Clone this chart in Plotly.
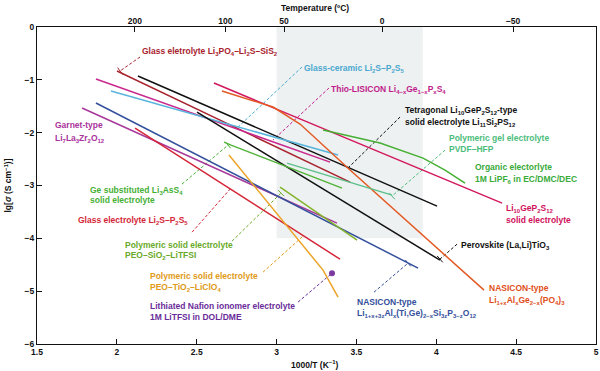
import math
import plotly.graph_objects as go

FONT = "Liberation Sans, Arial, sans-serif"

# ---------------- data (1000/T in K^-1, lg sigma in S/cm) ----------------
series_names = [
    "Li3PO4-Li2S-SiS2", "Tetragonal Li11Si2PS12", "Thio-LISICON", "Glass-ceramic Li2S-P2S5",
    "Garnet LLZO", "NASICON Ti/Ge", "Glass Li2S-P2S5", "Li10GeP2S12", "Perovskite",
    "NASICON Ge", "Organic LiPF6", "Ge-Li3AsS4", "PVDF-HFP", "PEO-SiO2-LiTFSI", "PEO-TiO2-LiClO4",
]
series_x = [
    [2.001, 3.46],
    [2.132, 4.005],
    [1.869, 3.335],
    [1.963, 3.385],
    [1.782, 3.378],
    [1.869, 3.886],
    [2.114, 3.397],
    [2.608, 4.412],
    [2.502, 4.023],
    [2.658, 2.978, 3.147, 3.46, 4.299],
    [3.291, 3.648, 3.917, 4.055, 4.18],
    [2.671, 2.715, 3.41],
    [3.065, 3.723],
    [3.022, 3.504],
    [2.702, 3.291, 3.385],
]
series_y = [
    [-0.833, -2.936],
    [-0.928, -3.39],
    [-0.985, -2.557],
    [-1.212, -2.424],
    [-1.534, -3.712],
    [-1.439, -4.564],
    [-1.913, -4.394],
    [-1.061, -3.333],
    [-1.61, -4.413],
    [-1.212, -1.515, -1.837, -2.708, -4.981],
    [-1.951, -2.197, -2.481, -2.708, -2.955],
    [-2.178, -2.235, -3.049],
    [-2.576, -3.182],
    [-3.03, -4.034],
    [-2.424, -4.602, -5.114],
]
series_colors = [
    "#a8232e", "#111111", "#c8288e", "#58b4dc", "#a8389a", "#34509c", "#d42638",
    "#d2185e", "#111111", "#e25a24", "#46b034", "#52b43a", "#5cc08a", "#84b42c", "#eba428",
]

nafion_x = [3.347]
nafion_y = [-4.659]

# labels: (lines, x, y list, colour)
labels = [
    (["Glass eletrolyte Li<sub>3</sub>PO<sub>4</sub>–Li<sub>2</sub>S–SiS<sub>2</sub>"], 2.145, [-0.455], "#a8232e"),
    (["Glass-ceramic Li<sub>2</sub>S–P<sub>2</sub>S<sub>5</sub>"], 3.159, [-0.777], "#4aa8d0"),
    (["Thio-LISICON Li<sub>4−x</sub>Ge<sub>1−x</sub>P<sub>x</sub>S<sub>4</sub>"], 3.328, [-1.174], "#c01c8c"),
    (["Tetragonal Li<sub>10</sub>GeP<sub>2</sub>S<sub>12</sub>-type",
      "solid electrolyte Li<sub>11</sub>Si<sub>2</sub>PS<sub>12</sub>"], 3.792, [-1.572, -1.80], "#111111"),
    (["Garnet-type", "Li<sub>7</sub>La<sub>3</sub>Zr<sub>2</sub>O<sub>12</sub>"], 1.6, [-1.856, -2.102], "#a8329c"),
    (["Polymeric gel electrolyte", "PVDF–HFP"], 4.067, [-2.102, -2.31], "#4cbc7c"),
    (["Organic electorlyte", "1M LiPF<sub>6</sub> in EC/DMC/DEC"], 4.23, [-2.652, -2.879], "#3aaa3a"),
    (["Li<sub>10</sub>GeP<sub>2</sub>S<sub>12</sub>", "solid electrolyte"], 4.424, [-3.428, -3.655], "#d0105a"),
    (["Perovskite (La,Li)TiO<sub>3</sub>"], 4.142, [-4.129], "#111111"),
    (["NASICON-type", "Li<sub>1+x</sub>Al<sub>x</sub>Ge<sub>2−x</sub>(PO<sub>4</sub>)<sub>3</sub>"], 4.318, [-4.943, -5.17], "#e05020"),
    (["NASICON-type",
      "Li<sub>1+x+3z</sub>Al<sub>x</sub>(Ti,Ge)<sub>2−x</sub>Si<sub>3z</sub>P<sub>3−z</sub>O<sub>12</sub>"], 3.491, [-5.208, -5.417], "#34509c"),
    (["Lithiated Nafion ionomer electrolyte", "1M LiTFSI in DOL/DME"], 2.195, [-5.284, -5.492], "#6a2c9a"),
    (["Polymeric solid electrolyte", "PEO–TiO<sub>2</sub>–LiClO<sub>4</sub>"], 2.195, [-4.716, -4.924], "#e09a18"),
    (["Polymeric solid electrolyte", "PEO–SiO<sub>2</sub>–LiTFSI"], 2.039, [-4.129, -4.318], "#6aaa2a"),
    (["Glass electrolyte Li<sub>2</sub>S–P<sub>2</sub>S<sub>5</sub>"], 1.744, [-3.655], "#d42638"),
    (["Ge substituted Li<sub>3</sub>AsS<sub>4</sub>", "solid electrolyte"], 1.819, [-3.087, -3.277], "#46b034"),
]

# leader lines: ([x0, x1], [y0, y1], colour, end tick?)
pointers = [
    ([2.145, 2.02], [-0.568, -0.833], "#a8232e", True),
    ([3.159, 2.752], [-0.758, -1.913], "#4aa8d0", False),
    ([3.328, 2.978], [-1.155, -2.14], "#c01c8c", False),
    ([3.773, 3.447], [-1.705, -2.67], "#111111", False),
    ([4.055, 3.723], [-2.33, -3.2], "#4cbc7c", True),
    ([4.13, 4.023], [-4.11, -4.394], "#111111", True),
    ([3.61, 3.823], [-5.019, -4.47], "#34509c", True),
    ([3.134, 3.347], [-5.208, -4.659], "#6a2c9a", False),
    ([2.915, 3.166], [-4.64, -3.958], "#e09a18", False),
    ([2.721, 3.028], [-4.053, -3.144], "#6aaa2a", True),
    ([2.471, 2.709], [-3.883, -3.068], "#d42638", False),
    ([2.408, 2.696], [-2.973, -2.235], "#46b034", True),
]

bottom_ticks = [1.5, 2, 2.5, 3, 3.5, 4, 4.5, 5]
left_ticks = [0, -1, -2, -3, -4, -5, -6]
temp_tick_labels = ["200", "100", "50", "0", "−50"]
temp_tick_pos = [2.113, 2.68, 3.047, 3.661, 4.481]   # as placed in the original figure
shade_x = [3.0, 3.915]
shade_y = [-4.0, 0.0]

X_RANGE = [1.5, 5]
Y_RANGE = [-6, 0]
W, H = 600, 371
M = dict(l=37, r=4, t=27, b=27)
# screen pixels per data unit (for orienting the little end ticks of the leaders)
sx = (W - M["l"] - M["r"]) / (X_RANGE[1] - X_RANGE[0])
sy = (H - M["t"] - M["b"]) / (Y_RANGE[1] - Y_RANGE[0])

# ---------------- figure ----------------
fig = go.Figure()

fig.add_shape(type="rect", xref="x", yref="y", x0=shade_x[0], x1=shade_x[1],
              y0=shade_y[0], y1=shade_y[1], fillcolor="#eef1f1", line_width=0, layer="below")

for px, py, c, tick in pointers:
    fig.add_trace(go.Scatter(x=px, y=py, mode="lines", line=dict(color=c, width=1, dash="3px,2px"),
                             hoverinfo="skip", showlegend=False))
    if tick:
        ang = math.degrees(math.atan2(-(py[1] - py[0]) * sy, (px[1] - px[0]) * sx)) + 90
        fig.add_trace(go.Scatter(x=[px[1]], y=[py[1]], mode="markers", hoverinfo="skip", showlegend=False,
                                 marker=dict(symbol="line-ew", size=6, angle=ang,
                                             line=dict(color=c, width=1))))

for name, xs, ys, c in zip(series_names, series_x, series_y, series_colors):
    fig.add_trace(go.Scatter(x=xs, y=ys, mode="lines", name=name,
                             line=dict(color=c, width=1.5), showlegend=False))

fig.add_trace(go.Scatter(x=nafion_x, y=nafion_y, mode="markers",
                         marker=dict(color="#7a3aa0", size=6), showlegend=False))

# invisible trace for top axis
fig.add_trace(go.Scatter(x=X_RANGE, y=[None, None], xaxis="x2", showlegend=False, hoverinfo="skip"))

LBL = dict(family=FONT, size=8.5)
for lines, lx, lys, c in labels:
    for t, ly in zip(lines, lys):
        fig.add_annotation(x=lx, y=ly, xref="x", yref="y", text="<b>" + t + "</b>", showarrow=False,
                           xanchor="left", yanchor="middle", font=dict(LBL, color=c))

tick_font = dict(family=FONT, size=8.5, color="#111111", weight="bold")
common = dict(ticks="inside", ticklen=5, tickcolor="#111", showgrid=False, zeroline=False,
              tickfont=tick_font, automargin=False)
fig.update_layout(
    width=W, height=H,
    margin=dict(M, autoexpand=False),
    paper_bgcolor="white", plot_bgcolor="white",
    xaxis=dict(range=X_RANGE, tickvals=bottom_ticks, ticktext=["1.5", "2", "2.5", "3", "3.5", "4", "4.5", "5"],
               showline=True, linecolor="#111", linewidth=1, mirror=True, **common),
    xaxis2=dict(range=X_RANGE, overlaying="x", side="top",
                tickvals=temp_tick_pos, ticktext=temp_tick_labels,
                showline=False, **common),
    yaxis=dict(range=Y_RANGE, tickvals=left_ticks, ticktext=[str(v).replace("-", "−") for v in left_ticks],
               showline=True, linecolor="#111", linewidth=1, mirror=True, **common),
)
TF = dict(family=FONT, size=8.5, color="#111")
fig.add_annotation(text="<b>Temperature (ºC)</b>", xref="paper", yref="paper", x=(315 - 37) / 559, y=1.0,
                   yshift=19, xanchor="center", yanchor="middle", showarrow=False, font=TF)
fig.add_annotation(text="<b>1000/T (K<sup>−1</sup>)</b>", xref="paper", yref="paper", x=(315 - 37) / 559, y=0.0,
                   yshift=-20, xanchor="center", yanchor="middle", showarrow=False, font=TF)
fig.add_annotation(text="<b>lg[<i>σ</i> (S cm<sup>−1</sup>)]</b>", xref="paper", yref="paper", x=0.0, y=0.5,
                   xshift=-29, xanchor="center", yanchor="middle", textangle=-90, showarrow=False, font=TF)

fig.write_html("out.html", config={"displayModeBar": False},
               post_script="document.body.style.margin='0px';")
